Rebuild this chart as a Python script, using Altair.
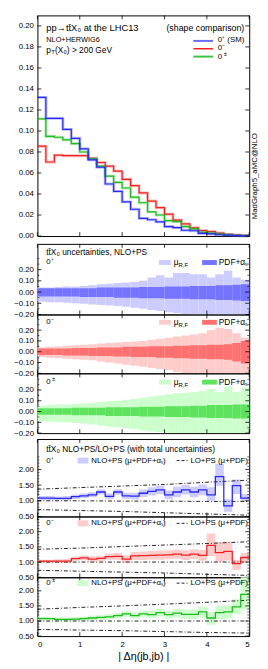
import altair as alt
import pandas as pd

FONT = "Liberation Sans"
W = 216

edges = [0.0, 0.2, 0.4, 0.6, 0.8, 1.0, 1.2, 1.4, 1.6, 1.8, 2.0, 2.2, 2.4, 2.6, 2.8,
         3.0, 3.2, 3.4, 3.6, 3.8, 4.0, 4.2, 4.4, 4.6, 4.8, 5.0]
x_ticks = [0, 1, 2, 3, 4, 5]

# ---- main panel: normalised shapes
h_sm = [0.132, 0.112, 0.112, 0.1015, 0.093, 0.083, 0.0725, 0.0655, 0.0495, 0.0425, 0.0325, 0.0255, 0.0168,
        0.0155, 0.0135, 0.009, 0.008, 0.0055, 0.005, 0.0025, 0.002, 0.0012, 0.0008, 0.0004, 0.0002]
h_cp = [0.0855, 0.0705, 0.077, 0.0765, 0.0765, 0.0765, 0.074, 0.070, 0.0665, 0.0618, 0.054, 0.048, 0.041,
        0.0333, 0.027, 0.0208, 0.0152, 0.0115, 0.0078, 0.0053, 0.0043, 0.0028, 0.0016, 0.001, 0.0005]
h_mx = [0.1115, 0.0948, 0.094, 0.0916, 0.088, 0.080, 0.0736, 0.0665, 0.057, 0.051, 0.0457, 0.037, 0.0317,
        0.023, 0.020, 0.0146, 0.0137, 0.009, 0.0068, 0.0037, 0.0028, 0.0019, 0.0012, 0.0006, 0.0003]

# ---- uncertainty panels (relative)
mu_hi_p = [0.04, 0.04, 0.045, 0.05, 0.05, 0.055, 0.06, 0.07, 0.075, 0.08, 0.085, 0.09, 0.10, 0.13, 0.15,
           0.13, 0.17, 0.17, 0.16, 0.16, 0.13, 0.16, 0.19, 0.13, 0.11]
mu_lo_p = [-0.085, -0.09, -0.09, -0.095, -0.10, -0.105, -0.11, -0.115, -0.12, -0.125, -0.13, -0.14, -0.15,
           -0.16, -0.17, -0.18, -0.19, -0.20, -0.21, -0.22, -0.22, -0.23, -0.24, -0.23, -0.22]
pdf_hi_p = [0.035, 0.035, 0.035, 0.035, 0.035, 0.035, 0.035, 0.04, 0.04, 0.04, 0.04, 0.04, 0.045, 0.045,
            0.045, 0.05, 0.05, 0.05, 0.055, 0.055, 0.055, 0.06, 0.06, 0.065, 0.07]
pdf_lo_p = [-0.04, -0.04, -0.04, -0.04, -0.04, -0.045, -0.045, -0.045, -0.045, -0.05, -0.05, -0.05, -0.055,
            -0.055, -0.055, -0.06, -0.06, -0.06, -0.065, -0.065, -0.065, -0.07, -0.07, -0.075, -0.08]

mu_hi_m = [0.04, 0.045, 0.05, 0.055, 0.06, 0.065, 0.07, 0.075, 0.08, 0.085, 0.09, 0.095, 0.10, 0.11, 0.12,
           0.13, 0.14, 0.15, 0.16, 0.17, 0.20, 0.22, 0.21, 0.17, 0.13]
mu_lo_m = [-0.05, -0.055, -0.06, -0.065, -0.07, -0.075, -0.08, -0.09, -0.10, -0.11, -0.12, -0.13, -0.14,
           -0.15, -0.16, -0.17, -0.19, -0.20, -0.21, -0.22, -0.23, -0.24, -0.24, -0.24, -0.24]
pdf_hi_m = [0.03, 0.03, 0.03, 0.03, 0.035, 0.035, 0.035, 0.04, 0.04, 0.04, 0.045, 0.045, 0.045, 0.05, 0.05,
            0.05, 0.055, 0.055, 0.06, 0.06, 0.065, 0.065, 0.07, 0.08, 0.10]
pdf_lo_m = [-0.03, -0.03, -0.03, -0.035, -0.035, -0.035, -0.04, -0.04, -0.04, -0.045, -0.045, -0.05, -0.05,
            -0.05, -0.055, -0.055, -0.06, -0.06, -0.065, -0.065, -0.07, -0.07, -0.075, -0.09, -0.11]

mu_hi_x = [0.055, 0.06, 0.065, 0.065, 0.07, 0.075, 0.08, 0.09, 0.095, 0.10, 0.11, 0.12, 0.13, 0.14, 0.15,
           0.16, 0.17, 0.175, 0.18, 0.19, 0.21, 0.18, 0.23, 0.18, 0.22]
mu_lo_x = [-0.09, -0.095, -0.10, -0.10, -0.105, -0.11, -0.12, -0.13, -0.14, -0.145, -0.155, -0.165, -0.175,
           -0.185, -0.19, -0.20, -0.21, -0.22, -0.22, -0.22, -0.23, -0.23, -0.23, -0.23, -0.23]
pdf_hi_x = [0.03, 0.03, 0.03, 0.03, 0.035, 0.035, 0.035, 0.035, 0.04, 0.04, 0.04, 0.04, 0.045, 0.045, 0.045,
            0.05, 0.05, 0.05, 0.055, 0.055, 0.06, 0.06, 0.06, 0.065, 0.065]
pdf_lo_x = [-0.03, -0.03, -0.03, -0.03, -0.035, -0.035, -0.035, -0.035, -0.04, -0.04, -0.04, -0.04, -0.045,
            -0.045, -0.045, -0.05, -0.05, -0.05, -0.055, -0.055, -0.06, -0.06, -0.06, -0.065, -0.065]

# ---- ratio panels NLO+PS / LO+PS
r_sm = [1.085, 1.085, 1.08, 1.08, 1.13, 1.16, 1.19, 1.28, 1.14, 1.28, 1.16, 1.15, 1.24, 1.30, 1.35, 1.19,
        1.28, 1.35, 1.28, 1.35, 1.19, 1.77, 0.84, 1.48, 1.085]
r_sm_hi = [1.15, 1.15, 1.14, 1.15, 1.20, 1.23, 1.27, 1.36, 1.23, 1.37, 1.26, 1.26, 1.36, 1.43, 1.48, 1.33,
           1.45, 1.50, 1.45, 1.52, 1.43, 2.17, 1.05, 1.68, 1.22]
r_sm_lo = [1.02, 1.02, 1.02, 1.01, 1.06, 1.09, 1.11, 1.20, 1.05, 1.19, 1.06, 1.04, 1.12, 1.17, 1.22, 1.05,
           1.11, 1.20, 1.11, 1.18, 1.00, 1.48, 0.65, 1.22, 0.98]
r_cp = [1.03, 1.03, 1.03, 1.03, 1.11, 1.14, 1.10, 1.12, 1.18, 1.19, 1.10, 1.20, 1.21, 1.22, 1.23, 1.24,
        1.26, 1.23, 1.26, 1.22, 1.55, 1.31, 1.35, 0.95, 1.15]
r_cp_hi = [1.08, 1.08, 1.09, 1.10, 1.18, 1.22, 1.19, 1.21, 1.28, 1.30, 1.22, 1.33, 1.35, 1.36, 1.38, 1.39,
           1.41, 1.39, 1.42, 1.40, 1.94, 1.65, 1.67, 1.08, 1.30]
r_cp_lo = [0.97, 0.97, 0.97, 0.96, 1.04, 1.06, 1.01, 1.03, 1.08, 1.08, 0.98, 1.07, 1.07, 1.08, 1.08, 1.09,
           1.11, 1.07, 1.10, 1.04, 1.20, 1.00, 1.05, 0.74, 1.00]
r_mx = [1.08, 1.08, 1.055, 1.055, 1.06, 1.08, 1.10, 1.12, 1.14, 1.18, 1.24, 1.18, 1.24, 1.21, 1.28, 1.21,
        1.26, 1.22, 1.22, 1.30, 1.10, 1.28, 1.30, 1.47, 1.88]
r_mx_hi = [1.14, 1.14, 1.12, 1.12, 1.13, 1.15, 1.18, 1.20, 1.23, 1.27, 1.34, 1.28, 1.35, 1.33, 1.41, 1.34,
           1.40, 1.37, 1.38, 1.48, 1.28, 1.50, 1.52, 1.72, 2.60]
r_mx_lo = [1.02, 1.02, 0.99, 0.99, 1.00, 1.01, 1.02, 1.04, 1.05, 1.09, 1.14, 1.08, 1.13, 1.09, 1.15, 1.08,
           1.12, 1.07, 1.06, 1.12, 0.88, 1.06, 1.08, 1.22, 1.38]

lo_x = [0, 1, 2, 3, 4, 5]
lo_up_sm = [1.37, 1.42, 1.47, 1.52, 1.59, 1.66]
lo_mid_sm = [1.0, 1.0, 0.99, 0.99, 0.98, 0.98]
lo_dn_sm = [0.72, 0.69, 0.66, 0.62, 0.58, 0.54]
lo_up_cp = [1.42, 1.46, 1.51, 1.56, 1.61, 1.67]
lo_mid_cp = [1.0, 1.0, 1.0, 1.0, 1.0, 1.0]
lo_dn_cp = [0.73, 0.70, 0.67, 0.64, 0.60, 0.56]
lo_up_mx = [1.39, 1.45, 1.50, 1.56, 1.62, 1.69]
lo_mid_mx = [1.0, 1.0, 1.0, 1.0, 1.0, 1.0]
lo_dn_mx = [0.72, 0.70, 0.68, 0.65, 0.62, 0.60]

# tick values
main_ticks = [0.0, 0.02, 0.04, 0.06, 0.08, 0.10, 0.12, 0.14, 0.16, 0.18, 0.20]
unc_ticks = [-0.2, -0.1, 0.0, 0.1, 0.2]
unc_minor = [-0.15, -0.05, 0.05, 0.15, 0.25, 0.3]
ratio_ticks = [0.5, 1.0, 1.5, 2.0]
ratio_minor = [0.6, 0.7, 0.8, 0.9, 1.1, 1.2, 1.3, 1.4, 1.6, 1.7, 1.8, 1.9, 2.1, 2.2, 2.3, 2.4]

BLUE, BLUE_L, BLUE_D = "#2828f0", "#ccccff", "#7474ff"
RED, RED_L, RED_D = "#f02020", "#ffcccc", "#ff7070"
GRN, GRN_L, GRN_D = "#22b822", "#ccffcc", "#5fe35f"

XTITLE = "| Δη(jb,jb) |"


def X(field, bottom=False):
    if bottom:
        ax = alt.Axis(values=x_ticks, title=XTITLE, format="d", ticks=False, labelPadding=5)
    else:
        ax = None
    return alt.X(f"{field}:Q", scale=alt.Scale(domain=[0, 5], nice=False, zero=False), axis=ax)


def Y(field, domain, ticks, fmt=".2f"):
    return alt.Y(f"{field}:Q", scale=alt.Scale(domain=domain, nice=False, zero=False),
                 axis=alt.Axis(values=ticks, format=fmt, title=None, ticks=False,
                               minExtent=21, maxExtent=21, labelPadding=4))


def bins_df(**cols):
    d = {"x0": edges[:-1], "x1": edges[1:]}
    d.update(cols)
    return pd.DataFrame(d)


def step_df(vals):
    return pd.DataFrame({"x": edges, "v": list(vals) + [vals[-1]]})


def txt(s, x, y, size=8, align="left", color="black"):
    return alt.Chart(pd.DataFrame({"t": [s]})).mark_text(
        align=align, baseline="middle", fontSize=size, font=FONT, color=color
    ).encode(x=alt.value(x), y=alt.value(y), text="t:N")


def swatch(x0, x1, y0, y1, color):
    return alt.Chart(pd.DataFrame({"a": [0]})).mark_rect(color=color).encode(
        x=alt.value(x0), x2=alt.value(x1), y=alt.value(y0), y2=alt.value(y1))


def seg(x0, x1, y, color, width=1.5, dash=None):
    kw = {"color": color, "strokeWidth": width}
    if dash:
        kw["strokeDash"] = dash
    return alt.Chart(pd.DataFrame({"a": [0]})).mark_rule(**kw).encode(
        x=alt.value(x0), x2=alt.value(x1), y=alt.value(y))


def zero_pm(x, y, sign):
    return [txt("0", x, y), txt(sign, x + 6, y - 3, size=6)]


def frame_ticks(h, dom, yt, fmt, ymin=None, bottom=False):
    """Inward gnuplot-style ticks drawn from the tick value lists."""
    layers = []
    ydf = pd.DataFrame({"v": yt})
    for xa, xb in [(0, 4), (W - 4, W)]:
        layers.append(alt.Chart(ydf).mark_rule(color="black", strokeWidth=0.8).encode(
            y=Y("v", dom, yt, fmt), x=alt.value(xa), x2=alt.value(xb)))
    if ymin:
        mdf = pd.DataFrame({"v": ymin})
        for xa, xb in [(0, 2), (W - 2, W)]:
            layers.append(alt.Chart(mdf).mark_rule(color="black", strokeWidth=0.6, clip=True).encode(
                y=Y("v", dom, yt, fmt), x=alt.value(xa), x2=alt.value(xb)))
    xdf = pd.DataFrame({"v": x_ticks})
    for ya, yb in [(h - 4, h), (0, 4)]:
        layers.append(alt.Chart(xdf).mark_rule(color="black", strokeWidth=0.8).encode(
            x=X("v", bottom), y=alt.value(ya), y2=alt.value(yb)))
    return layers


# ---------------- main panel
MH = 225
MD = [0, 0.21]
main_layers = []
for vals, col in [(h_cp, RED), (h_mx, GRN), (h_sm, BLUE)]:
    main_layers.append(alt.Chart(step_df(vals)).mark_line(
        interpolate="step-after", color=col, strokeWidth=3, opacity=0.3).encode(
        x=X("x"), y=Y("v", MD, main_ticks)))
    main_layers.append(alt.Chart(step_df(vals)).mark_line(
        interpolate="step-after", color=col, strokeWidth=1.2).encode(
        x=X("x"), y=Y("v", MD, main_ticks)))
main_layers += frame_ticks(MH, MD, main_ticks, ".2f")
main_layers += [
    txt("pp→tt̄X₀   at the LHC13", 9, 13, size=9.5),
    txt("(shape comparison)", 211, 13, size=9, align="right"),
    txt("NLO+HERWIG6", 9, 25, size=7.5),
    txt("p", 9, 35, size=8.5), txt("T", 14, 37.5, size=6), txt("(X₀) > 200 GeV", 18, 35, size=8.5),
    seg(159, 179, 26, "#6a6aff", 2), seg(159, 179, 34, "#ff2020", 1.5), seg(159, 179, 42, "#40c040", 2),
    txt("0⁺  (SM)", 184, 25.5, size=8), txt("0⁻", 184, 33.5, size=8),
]
main_layers += zero_pm(184, 42, "±")
main_layers.append(alt.Chart(pd.DataFrame({"t": ["MadGraph5_aMC@NLO"]})).mark_text(
    angle=270, fontSize=8, font=FONT, color="black", align="center", baseline="middle"
).encode(x=alt.value(W + 6), y=alt.value(164), text="t:N"))
main = alt.layer(*main_layers).properties(width=W, height=MH)


# ---------------- uncertainty panels
def unc_panel(h, top, mu_lo, mu_hi, pdf_lo, pdf_hi, cl, cd, label_layers, ly):
    dom = [-0.2, top]
    df = bins_df(mlo=mu_lo, mhi=mu_hi, plo=pdf_lo, phi=pdf_hi)
    layers = [
        alt.Chart(df).mark_rect(color=cl, clip=True).encode(
            x=X("x0"), x2="x1", y=Y("mlo", dom, unc_ticks), y2="mhi"),
        alt.Chart(df).mark_rect(color=cd, clip=True).encode(
            x=X("x0"), x2="x1", y=Y("plo", dom, unc_ticks), y2="phi"),
    ]
    layers += frame_ticks(h, dom, unc_ticks, ".2f", unc_minor)
    layers += label_layers
    layers += [
        swatch(124, 136, ly - 2.5, ly + 2.5, cl),
        txt("μ", 139, ly, size=8.5), txt("R,F", 144, ly + 2.5, size=6),
        swatch(168, 183, ly - 2.5, ly + 2.5, cd),
        txt("PDF+αₛ", 185, ly, size=8.5),
    ]
    return alt.layer(*layers).properties(width=W, height=h)


u1 = unc_panel(72, 0.43, mu_lo_p, mu_hi_p, pdf_lo_p, pdf_hi_p, BLUE_L, BLUE_D,
               [txt("tt̄X₀ uncertainties,   NLO+PS", 9, 8, size=8.5), txt("0⁺", 9, 19)], 19)
u2 = unc_panel(60, 0.345, mu_lo_m, mu_hi_m, pdf_lo_m, pdf_hi_m, RED_L, RED_D, [txt("0⁻", 9, 8)], 8)
u3 = unc_panel(61, 0.355, mu_lo_x, mu_hi_x, pdf_lo_x, pdf_hi_x, GRN_L, GRN_D, zero_pm(9, 9, "±"), 9)
unc = alt.vconcat(u1, u2, u3, spacing=0, bounds="flush")


# ---------------- ratio panels
def ratio_panel(h, top, cen, lo, hi, up, mid, dn, cl, cline, label_layers, ly, bottom=False):
    dom = [0.5, top]
    df = bins_df(lo=lo, hi=hi)
    lodf = pd.DataFrame({"x": lo_x, "up": up, "mid": mid, "dn": dn})
    layers = [
        alt.Chart(df).mark_rect(color=cl, clip=True).encode(
            x=X("x0", bottom), x2="x1", y=Y("lo", dom, ratio_ticks), y2="hi"),
    ]
    for f in ["up", "mid", "dn"]:
        layers.append(alt.Chart(lodf).mark_line(color="#222222", strokeWidth=1, strokeDash=[4, 2, 1, 2],
                                                clip=True).encode(x=X("x", bottom),
                                                                  y=Y(f, dom, ratio_ticks)))
    layers.append(alt.Chart(step_df(cen)).mark_line(
        interpolate="step-after", color=cline, strokeWidth=1.3, clip=True).encode(
        x=X("x", bottom), y=Y("v", dom, ratio_ticks)))
    layers += frame_ticks(h, dom, ratio_ticks, ".2f", ratio_minor, bottom)
    layers += label_layers
    layers += [
        swatch(41, 52, ly - 3, ly + 3, cl),
        txt("NLO+PS (μ+PDF+αₛ)", 55, ly, size=8),
        seg(142, 153, ly, "#222222", 1, [3, 2]),
        txt("LO+PS (μ+PDF)", 156, ly, size=8),
    ]
    return alt.layer(*layers).properties(width=W, height=h)


r1 = ratio_panel(79, 2.97, r_sm, r_sm_lo, r_sm_hi, lo_up_sm, lo_mid_sm, lo_dn_sm, BLUE_L, BLUE,
                 [txt("tt̄X₀  NLO+PS/LO+PS   (with total uncertainties)", 9, 10, size=8.5),
                  txt("0⁺", 9, 22)], 22)
r2 = ratio_panel(62, 2.5, r_cp, r_cp_lo, r_cp_hi, lo_up_cp, lo_mid_cp, lo_dn_cp, RED_L, RED,
                 [txt("0⁻", 9, 7)], 7)
r3 = ratio_panel(60, 2.45, r_mx, r_mx_lo, r_mx_hi, lo_up_mx, lo_mid_mx, lo_dn_mx, GRN_L, GRN,
                 zero_pm(9, 6, "±"), 6, bottom=True)
rat = alt.vconcat(r1, r2, r3, spacing=0, bounds="flush")

chart = alt.vconcat(main, unc, rat, spacing=0).properties(
    padding={"left": 5, "top": 0, "right": 0, "bottom": 0}
).configure_view(stroke="black", strokeWidth=1).configure_axis(
    domain=False, grid=False, ticks=False,
    labelFont=FONT, labelFontSize=8, labelColor="black",
    titleFont=FONT, titleFontSize=11, titleFontWeight="normal", titleColor="black", titlePadding=2
)

chart.save("out.html", embed_options={"renderer": "svg", "actions": False})
